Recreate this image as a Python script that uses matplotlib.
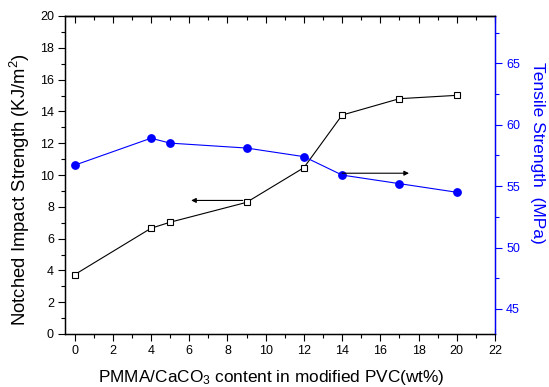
import matplotlib.pyplot as plt
from matplotlib.ticker import MultipleLocator

plt.rcParams['font.family'] = ['Liberation Sans', 'DejaVu Sans']
plt.rcParams['mathtext.fontset'] = 'custom'
plt.rcParams['mathtext.rm'] = 'Liberation Sans'
plt.rcParams['mathtext.it'] = 'Liberation Sans'

content = [0, 4, 5, 9, 12, 14, 17, 20]
impact = [3.73, 6.65, 7.03, 8.28, 10.46, 13.77, 14.8, 15.01]
tensile = [56.7, 58.9, 58.5, 58.1, 57.4, 55.9, 55.2, 54.5]

blue = '#0000ff'

fig = plt.figure(figsize=(5.49, 3.87), dpi=100)
ax = fig.add_axes([65 / 549, 1 - 334 / 387, 430 / 549, 318 / 387])
ax2 = ax.twinx()

ax.plot(content, impact, color='black', lw=0.8, marker='s', ms=4.3,
        mfc='white', mec='black', mew=0.8, zorder=3)
ax2.plot(content, tensile, color=blue, lw=0.8, marker='o', ms=5.3,
         mfc=blue, mec=blue, zorder=3)

# arrows pointing to the axis of each series
ax.annotate('', xy=(6.1, 8.4), xytext=(8.8, 8.4),
            arrowprops=dict(arrowstyle='-|>', color='black', lw=0.8,
                            mutation_scale=7, shrinkA=0, shrinkB=0))
ax2.annotate('', xy=(17.5, 56.05), xytext=(14.0, 56.05),
             arrowprops=dict(arrowstyle='-|>', color='black', lw=0.8,
                             mutation_scale=7, shrinkA=0, shrinkB=0))

ax.set_xlim(-0.5, 22)
ax.set_ylim(0, 20)
ax2.set_ylim(42.96, 68.85)

ax.xaxis.set_major_locator(MultipleLocator(2))
ax.xaxis.set_minor_locator(MultipleLocator(1))
ax.yaxis.set_major_locator(MultipleLocator(2))
ax.yaxis.set_minor_locator(MultipleLocator(1))
ax2.yaxis.set_major_locator(MultipleLocator(5))
ax2.yaxis.set_minor_locator(MultipleLocator(2.5))

ax.tick_params(axis='both', which='major', length=5, width=0.8,
               labelsize=9, direction='out', pad=3)
ax.tick_params(axis='both', which='minor', length=3, width=0.8, direction='out')
ax.tick_params(axis='x', which='both', top=False)
ax2.tick_params(axis='y', which='major', length=5, width=0.8, colors=blue,
                labelsize=9, direction='out', pad=3)
ax2.tick_params(axis='y', which='minor', length=3, width=0.8, colors=blue,
                direction='out')

# ticks on the top spine point inward
secx = ax.secondary_xaxis('top')
secx.xaxis.set_major_locator(MultipleLocator(2))
secx.xaxis.set_minor_locator(MultipleLocator(1))
secx.tick_params(axis='x', which='major', direction='in', length=5, width=0.8,
                 labeltop=False)
secx.tick_params(axis='x', which='minor', direction='in', length=3, width=0.8)

for s in ['left', 'bottom', 'top']:
    ax.spines[s].set_linewidth(1.0)
ax2.spines['right'].set_color(blue)
ax2.spines['right'].set_linewidth(1.0)
secx.spines['top'].set_linewidth(1.0)

ax.set_xlabel(r'PMMA/CaCO$_3$ content in modified PVC(wt%)', fontsize=12.4,
              va='baseline', ha='center')
ax.xaxis.set_label_coords(0.479, -0.150)
ax.set_ylabel(r'Notched Impact Strength (KJ/m$^2$)', fontsize=13.3,
              va='center', ha='center')
ax.yaxis.set_label_coords(-0.105, 0.453)
ax2.set_ylabel('Tensile Strength  (MPa)', fontsize=12.5, color=blue,
               rotation=-90, va='center', ha='center', rotation_mode='default')
ax2.yaxis.set_label_coords(1.100, 0.569)

plt.savefig('out.png', dpi=100)
plt.close()
